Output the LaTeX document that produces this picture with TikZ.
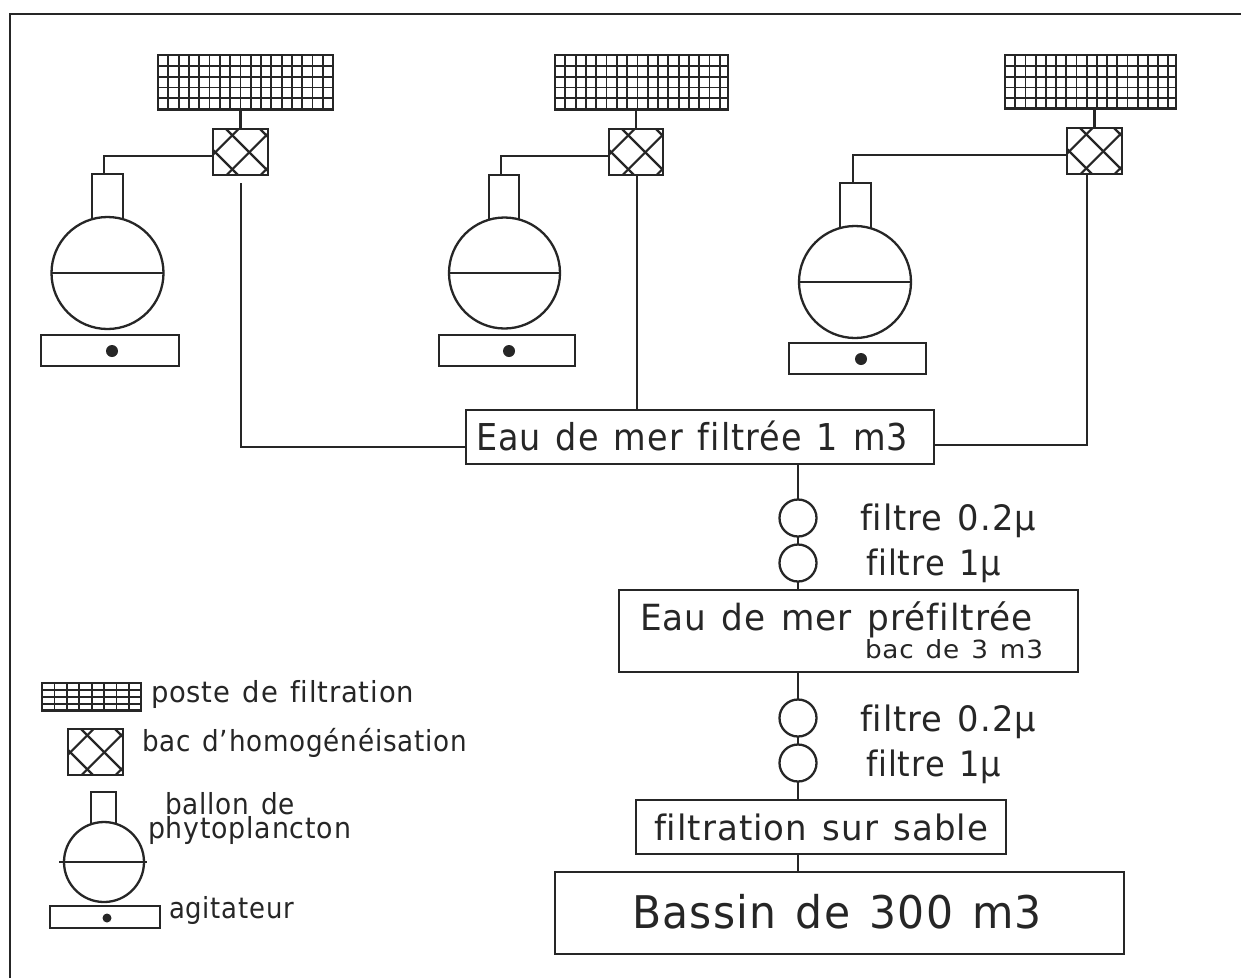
\documentclass[tikz,border=0pt]{standalone}
\usepackage{fontspec}
\usepackage{graphicx}
\setmainfont{DejaVu Sans}[LetterSpace=3,WordSpace=1.3,Ligatures=NoCommon]
\usetikzlibrary{calc}
\definecolor{ink}{HTML}{262626}
\tikzset{
  ln/.style={draw=ink,line width=2.3pt},
  boxn/.style={ln,rectangle,inner sep=0pt,outer sep=0pt},
  gridbox/.style n args={2}{boxn,path picture={
     \foreach \i in {1,...,20}{
       \draw[draw=ink,line width=1.8pt] ($(path picture bounding box.north west)+(\i*#1,0)$) -- ++(0,80);}
     \foreach \j in {1,...,8}{
       \draw[draw=ink,line width=1.8pt] ($(path picture bounding box.north west)+(0,\j*#2)$) -- ++(200,0);}
     \draw[draw=ink,line width=5pt] (path picture bounding box.south west) -- (path picture bounding box.south east);
  }},
  hatchbox/.style={boxn,path picture={
     \foreach \c in {-21,13,47}{
       \draw[draw=ink,line width=2.2pt] ($(path picture bounding box.north west)+(\c,0)$) -- ++(70,70);}
     \foreach \s in {25.6,59.6,93.6}{
       \draw[draw=ink,line width=2.2pt] ($(path picture bounding box.north west)+(\s,0)$) -- ++(-70,70);}
  }},
  flaskc/.style={ln,circle,inner sep=0pt,outer sep=0pt},
  stirdot/.style={circle,fill=ink,inner sep=0pt,outer sep=0pt},
  txt/.style={anchor=base west,inner sep=0pt,outer sep=0pt,text=ink}
}
% name, style, x0, y0, x1, y1
\newcommand{\rectn}[6]{%
  \pgfmathsetmacro{\wdd}{#5-#3}\pgfmathsetmacro{\htt}{#6-#4}%
  \pgfmathsetmacro{\xmm}{(#3+#5)/2}\pgfmathsetmacro{\ymm}{(#4+#6)/2}%
  \node[#2,minimum width=\wdd pt,minimum height=\htt pt] (#1) at (\xmm,\ymm) {};}
% name, x, baseline, width, size, text
\newcommand{\lab}[6]{%
  \node[txt] (#1) at (#2,#3) {\resizebox{#4pt}{\height}{\fontsize{#5pt}{#5pt}\selectfont #6}};}
% flask: prefix, cx, cy, r, neck x0, neck x1, neck top
\newcommand{\flask}[7]{%
  \node[flaskc,minimum size=2*#4 pt] (#1c) at (#2,#3) {};
  \draw[ln] (#1c.west) -- (#1c.east);
  \coordinate (#1nl) at (#5,#7);
  \coordinate (#1nr) at (#6,#7);
  \draw[ln] (#1nl |- #1c.north) ++(0,2) -- (#1nl) -- (#1nr) -- ($(#1nr |- #1c.north)+(0,2)$);}
\begin{document}
\begin{tikzpicture}[x=1pt,y=-1pt]
\useasboundingbox (0,0) rectangle (1241,978);
\fill[white] (0,0) rectangle (1241,978);
% frame
\coordinate (fa) at (10,978);
\coordinate (fb) at (10,14);
\coordinate (fc) at (1241,14);
\draw[ln,line width=2.6pt] (fa) -- (fb) -- (fc);
% filtration posts
\rectn{f1}{gridbox={10.3}{10.8}}{158}{55}{333}{110}
\rectn{f2}{gridbox={10.3}{10.8}}{555}{55}{728}{110}
\rectn{f3}{gridbox={10.2}{10.8}}{1005}{55}{1176}{109}
% homogenisation tanks
\rectn{h1}{hatchbox}{213}{129}{268}{175}
\rectn{h2}{hatchbox}{609}{129}{663}{175}
\rectn{h3}{hatchbox}{1067}{128}{1122}{174}
\draw[ln] (h1.north) -- (h1.north |- f1.south);
\draw[ln] (h2.north) -- (h2.north |- f2.south);
\draw[ln] (h3.north) -- (h3.north |- f3.south);
% flasks
\flask{a}{107.5}{273}{56}{92}{123}{174}
\flask{b}{504.5}{273}{55.5}{489}{519}{175}
\flask{c}{855}{282}{56}{840}{871}{183}
% stirrers
\rectn{s1}{boxn}{41}{335}{179}{366}
\rectn{s2}{boxn}{439}{335}{575}{366}
\rectn{s3}{boxn}{789}{343}{926}{374}
\node[stirdot,minimum size=12pt] (d1) at (112,351) {};
\node[stirdot,minimum size=12pt] (d2) at (509,351) {};
\node[stirdot,minimum size=12pt] (d3) at (861,359) {};
% pipes from tanks to flasks
\coordinate (p1) at (213,156); \coordinate (q1) at (104,174);
\coordinate (p2) at (609,156); \coordinate (q2) at (501,175);
\coordinate (p3) at (1067,155); \coordinate (q3) at (853,183);
\draw[ln] (p1) -| (q1);
\draw[ln] (p2) -| (q2);
\draw[ln] (p3) -| (q3);
% main boxes
\rectn{m1}{boxn}{466}{410}{934}{464}
\rectn{m2}{boxn}{619}{590}{1078}{672}
\rectn{m3}{boxn}{636}{800}{1006}{854}
\rectn{m4}{boxn}{555}{872}{1124}{954}
% water supply lines
\coordinate (u1) at (241,183); \coordinate (v1) at (466,447);
\coordinate (u2) at (637,175);
\coordinate (u3) at (1087,174); \coordinate (v3) at (934,445);
\draw[ln] (u1) |- (v1);
\draw[ln] (u2) -- (u2 |- m1.north);
\draw[ln] (u3) |- (v3);
% filters
\node[flaskc,minimum size=37pt] (c1) at (798,518) {};
\node[flaskc,minimum size=37pt] (c2) at (798,563) {};
\node[flaskc,minimum size=37pt] (c3) at (798,718) {};
\node[flaskc,minimum size=37pt] (c4) at (798,763) {};
\draw[ln] (c1.north) -- (c1.north |- m1.south);
\draw[ln] (c1.south) -- (c2.north);
\draw[ln] (c2.south) -- (c2.south |- m2.north);
\draw[ln] (c3.north) -- (c3.north |- m2.south);
\draw[ln] (c3.south) -- (c4.north);
\draw[ln] (c4.south) -- (c4.south |- m3.north);
\coordinate (k) at (798,854);
\draw[ln] (k) -- (k |- m4.north);
% texts
\lab{t1}{476}{450}{432}{37}{Eau de mer filtrée 1 m3}
\lab{t2}{860}{530}{176}{35}{filtre 0.2µ}
\lab{t3}{866}{575}{135}{35}{filtre 1µ}
\lab{t4}{640}{630}{393}{36}{Eau de mer préfiltrée}
\lab{t5}{865}{658}{178}{25}{bac de 3 m3}
\lab{t6}{860}{731}{176}{35}{filtre 0.2µ}
\lab{t7}{866}{776}{135}{35}{filtre 1µ}
\lab{t8}{654}{840}{334}{35}{filtration sur sable}
\lab{t9}{632}{928}{410}{45}{Bassin de 300 m3}
% legend
\rectn{lf}{gridbox={12.4}{7}}{42}{683}{141}{711}
\rectn{lh}{hatchbox}{68}{729}{123}{775}
\node[flaskc,minimum size=80pt] (lc) at (104,862) {};
\coordinate (ll) at (59,862); \coordinate (lr) at (147,862);
\draw[ln] (ll) -- (lr);
\coordinate (lnl) at (91,792); \coordinate (lnr) at (116,792);
\draw[ln] (lnl |- lc.north) ++(0,2) -- (lnl) -- (lnr) -- ($(lnr |- lc.north)+(0,2)$);
\rectn{ls}{boxn}{50}{906}{160}{928}
\node[stirdot,minimum size=9pt] (ld) at (107,918) {};
\lab{l1}{151}{702}{263}{29}{poste de filtration}
\lab{l2}{142}{751}{325}{29}{bac d'homogénéisation}
\lab{l3}{165}{814}{130}{29}{ballon de}
\lab{l4}{148}{838}{203}{29}{phytoplancton}
\lab{l5}{169}{918}{125}{29}{agitateur}
\end{tikzpicture}
\end{document}
